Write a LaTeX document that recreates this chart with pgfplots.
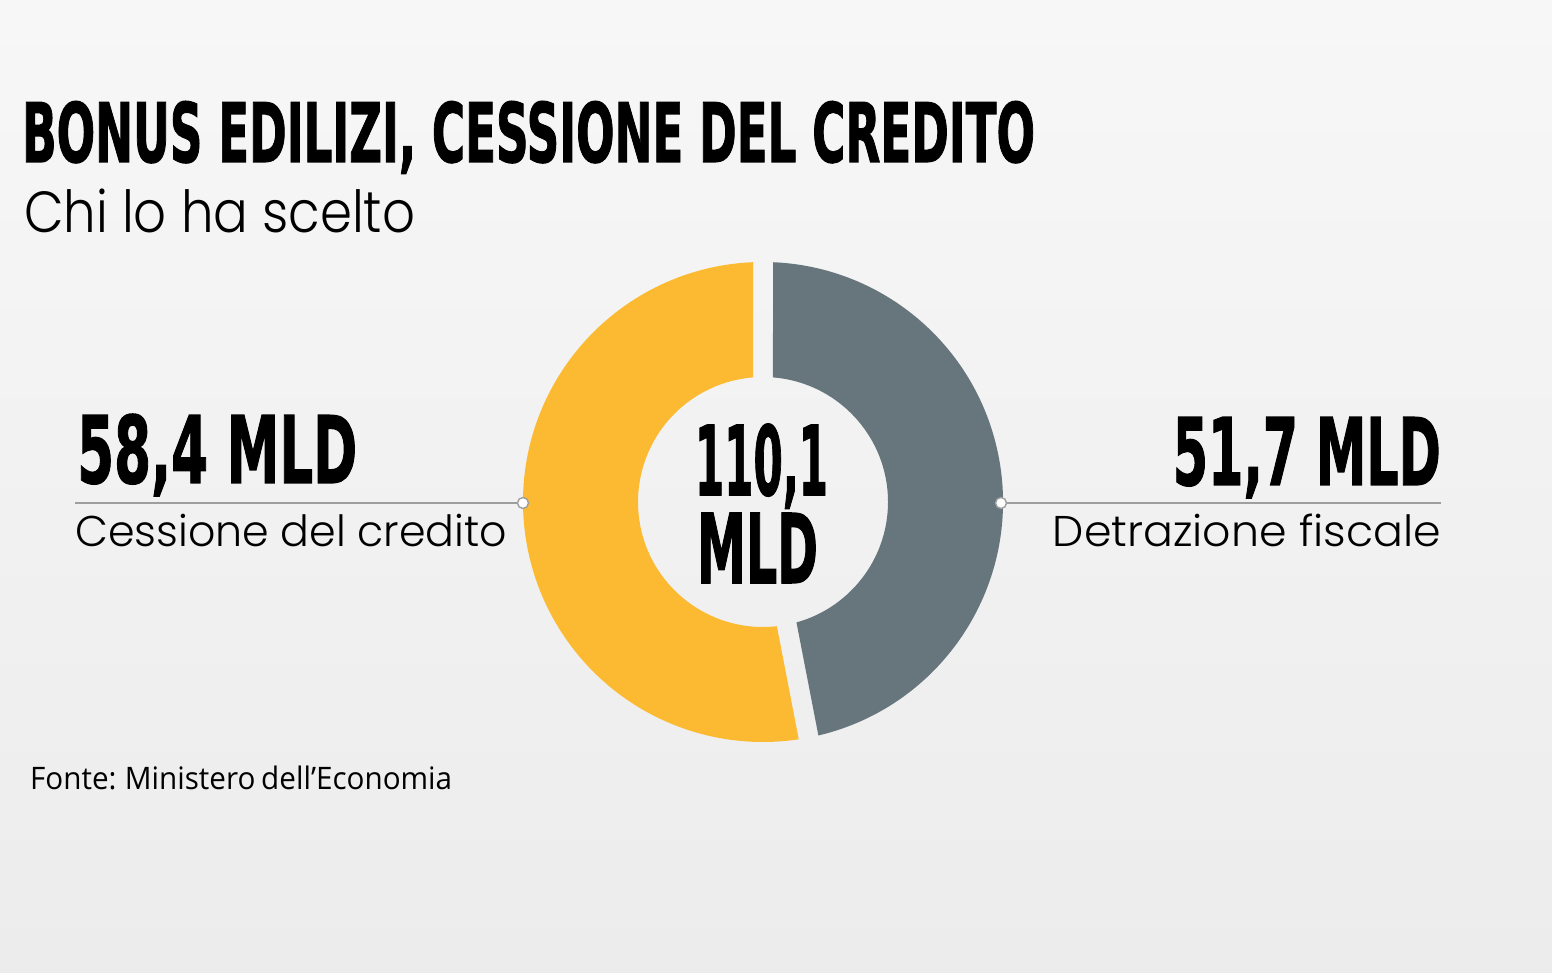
\documentclass[border=0pt]{standalone}
\usepackage{fontspec}
\usepackage{graphicx}
\usepackage{pgfplots}
\usepackage{pgfplotstable}
\pgfplotsset{compat=1.18}
\setmainfont{Liberation Sans}
\newfontfamily\condb{DejaVu Sans}[BoldFeatures={FakeBold=1.6}]
\newfontfamily\lightf{Poppins Light}
\newfontfamily\srcf{Open Sans}[WordSpace=0.75]
\definecolor{bgtop}{HTML}{F7F7F7}
\definecolor{bgbot}{HTML}{ECECEC}
\definecolor{cyellow}{HTML}{FBBA31}
\definecolor{cgray}{HTML}{67767C}
\definecolor{cline}{HTML}{9E9E9E}

\pgfplotstableread{
label value
Cessione 58.4
Detrazione 51.7
}\donutdata
\pgfplotstablegetelem{0}{value}\of\donutdata \let\vA\pgfplotsretval
\pgfplotstablegetelem{1}{value}\of\donutdata \let\vB\pgfplotsretval
\pgfmathsetmacro\tot{\vA+\vB}
\pgfmathsetmacro\frA{\vA/\tot}
\pgfmathsetmacro\aEnd{90+360*\frA}
\pgfmathsetmacro\bStart{\aEnd-360}
\def\go{2.39}
\def\gi{4.58}
\pgfmathsetmacro\yOs{90+\go}\pgfmathsetmacro\yOe{\aEnd-\go}
\pgfmathsetmacro\yIs{90+\gi}\pgfmathsetmacro\yIe{\aEnd-\gi}
\pgfmathsetmacro\gOs{\bStart+\go}\pgfmathsetmacro\gOe{90-\go}
\pgfmathsetmacro\gIs{\bStart+\gi}\pgfmathsetmacro\gIe{90-\gi}

\begin{document}
\begin{tikzpicture}
\fill[top color=bgtop,bottom color=bgbot] (0,0) rectangle (1552pt,972pt);
\begin{axis}[
  at={(0pt,0pt)}, anchor=origin,
  x=1pt, y=1pt, xmin=0, xmax=1552, ymin=0, ymax=972,
  hide axis, clip=false, scale only axis,
]
% donut segments
\fill[cyellow] (axis cs:763,470) ++(\yOs:240pt) arc[start angle=\yOs, end angle=\yOe, radius=240pt]
  -- ([shift={(\yIe:125pt)}]axis cs:763,470) arc[start angle=\yIe, end angle=\yIs, radius=125pt] -- cycle;
\fill[cgray] (axis cs:763,470) ++(\gOs:240pt) arc[start angle=\gOs, end angle=\gOe, radius=240pt]
  -- ([shift={(\gIe:125pt)}]axis cs:763,470) arc[start angle=\gIe, end angle=\gIs, radius=125pt] -- cycle;
% leader lines
\draw[cline, line width=2.2pt] (axis cs:75,469) -- (axis cs:523,469);
\draw[cline, line width=2.2pt] (axis cs:1001,469) -- (axis cs:1441,469);
\filldraw[fill=white, draw=cline, line width=1.4pt] (axis cs:523,469) circle[radius=5.5pt];
\filldraw[fill=white, draw=cline, line width=1.4pt] (axis cs:1001,469) circle[radius=5.5pt];
% texts
\node[anchor=base west, inner sep=0pt] at (axis cs:22,810)
  {\resizebox{1013pt}{\height}{\condb\bfseries\fontsize{82}{82}\selectfont BONUS EDILIZI, CESSIONE DEL CREDITO}};
\node[anchor=base west, inner sep=0pt] at (axis cs:24,739)
  {\resizebox{391pt}{\height}{\lightf\fontsize{58}{58}\selectfont Chi lo ha scelto}};
\node[anchor=base west, inner sep=0pt] at (axis cs:77,489)
  {\resizebox{280pt}{\height}{\condb\bfseries\fontsize{93}{93}\selectfont 58,4 MLD}};
\node[anchor=base west, inner sep=0pt] at (axis cs:75,425)
  {\resizebox{432pt}{\height}{\lightf\fontsize{43}{43}\selectfont Cessione del credito}};
\node[anchor=base east, inner sep=0pt] at (axis cs:1441,487)
  {\resizebox{268pt}{\height}{\condb\bfseries\fontsize{93}{93}\selectfont 51,7 MLD}};
\node[anchor=base east, inner sep=0pt] at (axis cs:1441,425)
  {\resizebox{388pt}{\height}{\lightf\fontsize{43}{43}\selectfont Detrazione fiscale}};
\node[anchor=base, inner sep=0pt] at (axis cs:761.5,477)
  {\resizebox{133pt}{\height}{\condb\bfseries\fontsize{96}{96}\selectfont 110,1}};
\node[anchor=base, inner sep=0pt] at (axis cs:757.5,389)
  {\resizebox{121pt}{\height}{\condb\bfseries\fontsize{96}{96}\selectfont MLD}};
\node[anchor=base west, inner sep=0pt] at (axis cs:30,182)
  {\resizebox{422pt}{\height}{\srcf\fontsize{31}{31}\selectfont Fonte: Ministero dell’Economia}};
\end{axis}
\pgfresetboundingbox
\path[use as bounding box] (0,0) rectangle (1552pt,972pt);
\end{tikzpicture}%
\end{document}
